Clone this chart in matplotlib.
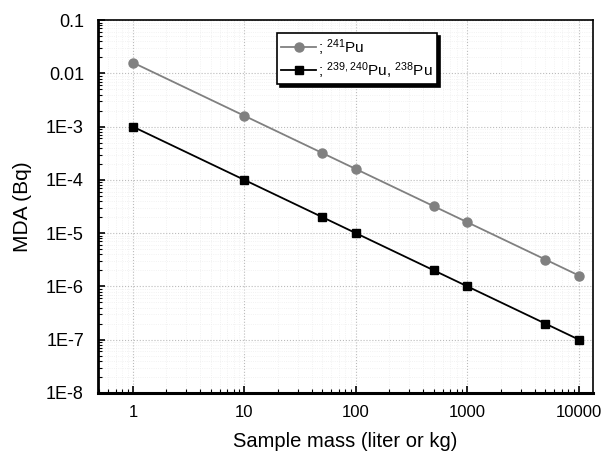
import numpy as np
import matplotlib.pyplot as plt
from matplotlib.ticker import FixedLocator, LogLocator, NullFormatter

# Datos
masa = [1, 10, 50, 100, 500, 1000, 5000, 10000]
mda_pu241 = [1.6e-2, 1.6e-3, 3.2e-4, 1.6e-4, 3.2e-5, 1.6e-5, 3.2e-6, 1.6e-6]
mda_pu239 = [1.0e-3, 1.0e-4, 2.0e-5, 1.0e-5, 2.0e-6, 1.0e-6, 2.0e-7, 1.0e-7]

x_ticks = [1, 10, 100, 1000, 10000]
x_labels = ['1', '10', '100', '1000', '10000']
y_ticks = [1e-8, 1e-7, 1e-6, 1e-5, 1e-4, 1e-3, 1e-2, 1e-1]
y_labels = ['1E-8', '1E-7', '1E-6', '1E-5', '1E-4', '1E-3', '0.01', '0.1']

plt.rcParams['font.family'] = ['Liberation Sans', 'DejaVu Sans']
plt.rcParams['mathtext.fontset'] = 'custom'
plt.rcParams['mathtext.rm'] = 'Liberation Sans'
plt.rcParams['mathtext.it'] = 'Liberation Sans'
plt.rcParams['mathtext.bf'] = 'Liberation Sans:bold'

fig = plt.figure(figsize=(6.04, 4.59), dpi=100)
ax = fig.add_axes([0.162, 0.144, 0.820, 0.812])

ax.plot(masa, mda_pu241, color='#808080', marker='o', ms=6.5, lw=1.3,
        label=r'; $^{\mathrm{241}}$Pu')
ax.plot(masa, mda_pu239, color='black', marker='s', ms=6, lw=1.3,
        label=r'; $^{\mathrm{239,240}}$Pu, $^{\mathrm{238}}$Pu')

ax.set_xscale('log')
ax.set_yscale('log')
ax.set_xlim(0.485, 13400)
ax.set_ylim(1e-8, 0.1)

ax.xaxis.set_major_locator(FixedLocator(x_ticks))
ax.set_xticklabels(x_labels)
ax.yaxis.set_major_locator(FixedLocator(y_ticks))
ax.set_yticklabels(y_labels)
ax.xaxis.set_minor_locator(LogLocator(base=10, subs=np.arange(2, 10)))
ax.yaxis.set_minor_locator(LogLocator(base=10, subs=np.arange(2, 10), numticks=20))
ax.xaxis.set_minor_formatter(NullFormatter())
ax.yaxis.set_minor_formatter(NullFormatter())

ax.tick_params(which='major', direction='in', length=5, width=1.2)
ax.tick_params(which='minor', direction='in', length=3, width=0.8)
ax.tick_params(axis='x', which='major', labelsize=12, pad=9)
ax.tick_params(axis='y', which='major', labelsize=13, pad=10)
ax.tick_params(axis='x', which='both', top=False)
ax.tick_params(axis='y', which='both', right=False)

ax.grid(which='major', color='#bbbbbb', ls=':', lw=0.8)
ax.grid(which='minor', color='#eeeeee', ls=':', lw=0.6)

for s in ax.spines.values():
    s.set_linewidth(1.2)
ax.spines['bottom'].set_linewidth(2.2)
ax.spines['left'].set_linewidth(2.0)

ax.set_xlabel('Sample mass (liter or kg)', fontsize=14.5, labelpad=8)
ax.set_ylabel('MDA (Bq)', fontsize=15, labelpad=10)

leg = ax.legend(loc='upper left', bbox_to_anchor=(0.362, 0.965), fontsize=11,
                frameon=True, fancybox=False, shadow={'color': 'black', 'alpha': 1},
                edgecolor='black', framealpha=1, handlelength=2.3,
                handletextpad=0.15, borderpad=0.25, labelspacing=0.15,
                borderaxespad=0)
leg.get_frame().set_linewidth(1.2)

plt.savefig('out.png', dpi=100)
